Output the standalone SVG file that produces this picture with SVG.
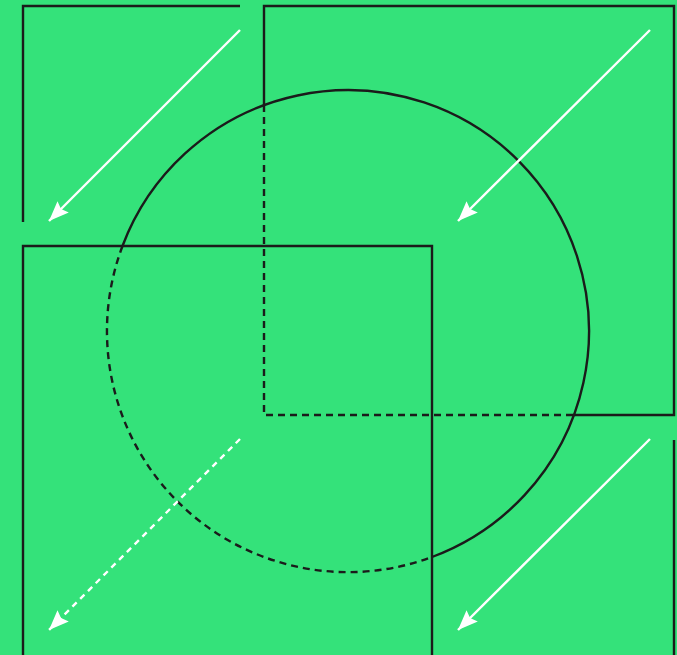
<svg xmlns="http://www.w3.org/2000/svg" width="677" height="655" viewBox="0 0 677 655">
<style>
.k{fill:none;stroke:#1b1b1b;stroke-width:2.4}
.d{stroke-dasharray:7 5}
.w{fill:none;stroke:#fff;stroke-width:2.4}
.wd{stroke-dasharray:6 5}
</style>
<defs>
<marker id="ah" markerUnits="userSpaceOnUse" markerWidth="22" markerHeight="22" viewBox="0 0 22 22" refX="20" refY="11" orient="auto">
<path d="M0,3 L20,11 L0,19 L3,11 Z" fill="#fff"/>
</marker>
</defs>
<rect width="677" height="655" fill="#34E27A"/>
<g id="rect-top-left">
<path class="k" d="M23,222 V6 H240"/>
</g>
<g id="rect-top-right">
<path class="k" d="M264,105 V6 H674 V415 H573"/>
<path class="k d" d="M573,415 H264 V105"/>
</g>
<g id="rect-bottom-left">
<path class="k" d="M23,660 V246 H432 V660"/>
</g>
<g id="rect-bottom-right">
<path class="k" d="M674,440 V660"/>
</g>
<g id="circle">
<path class="k" d="M122.5,246 A241,241 0 1 1 432,557"/>
<path class="k d" d="M122.5,246 A241,241 0 0 0 432,557"/>
</g>
<g id="connectors">
<line class="w" x1="240" y1="30" x2="49" y2="221" marker-end="url(#ah)"/>
<line class="w" x1="650" y1="30" x2="458" y2="221" marker-end="url(#ah)"/>
<line class="w" x1="650" y1="439" x2="458" y2="630" marker-end="url(#ah)"/>
<line class="w wd" x1="240" y1="439" x2="49" y2="630" marker-end="url(#ah)"/>
</g>
</svg>
